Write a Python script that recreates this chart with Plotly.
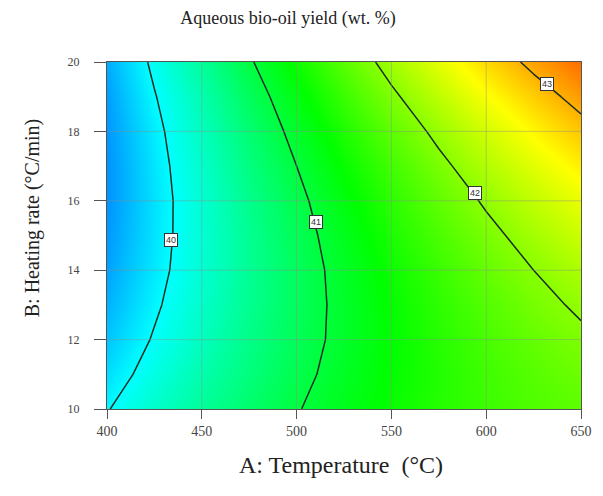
import plotly.graph_objects as go

# A: Temperature (°C) and B: Heating rate (°C/min)
temperature = [400, 425, 450, 475, 500, 525, 550, 575, 600, 625, 650]
heating_rate = [10, 11, 12, 13, 14, 15, 16, 17, 18, 19, 20]

# Aqueous bio-oil yield (wt. %), one row per heating rate
yield_b10 = [39.98, 40.27, 40.53, 40.76, 40.98, 41.17, 41.34, 41.48, 41.60, 41.70, 41.77]
yield_b11 = [39.83, 40.14, 40.42, 40.67, 40.91, 41.12, 41.31, 41.47, 41.62, 41.74, 41.85]
yield_b12 = [39.71, 40.03, 40.33, 40.61, 40.86, 41.09, 41.30, 41.49, 41.66, 41.81, 41.94]
yield_b13 = [39.61, 39.95, 40.27, 40.57, 40.84, 41.09, 41.32, 41.53, 41.72, 41.90, 42.05]
yield_b14 = [39.53, 39.89, 40.23, 40.55, 40.84, 41.11, 41.36, 41.59, 41.81, 42.00, 42.18]
yield_b15 = [39.48, 39.86, 40.22, 40.56, 40.87, 41.16, 41.43, 41.68, 41.91, 42.13, 42.33]
yield_b16 = [39.45, 39.85, 40.23, 40.59, 40.92, 41.23, 41.52, 41.79, 42.04, 42.28, 42.50]
yield_b17 = [39.45, 39.87, 40.27, 40.65, 41.00, 41.33, 41.63, 41.92, 42.20, 42.45, 42.68]
yield_b18 = [39.47, 39.91, 40.33, 40.73, 41.10, 41.45, 41.77, 42.08, 42.37, 42.64, 42.89]
yield_b19 = [39.51, 39.98, 40.41, 40.83, 41.22, 41.59, 41.94, 42.26, 42.57, 42.85, 43.11]
yield_b20 = [39.58, 40.07, 40.52, 40.96, 41.37, 41.76, 42.12, 42.47, 42.79, 43.08, 43.35]
z = [yield_b10, yield_b11, yield_b12, yield_b13, yield_b14, yield_b15,
     yield_b16, yield_b17, yield_b18, yield_b19, yield_b20]

contour_levels = [40, 41, 42, 43]
# where the level labels sit on their lines (temperature, heating rate)
label_temperature = [434, 510, 594, 632]
label_heating = [14.87, 15.39, 16.22, 19.37]

x_ticks = [400, 450, 500, 550, 600, 650]
y_ticks = [10, 12, 14, 16, 18, 20]

colorscale = [
    [0.0, "rgb(0,0,255)"],
    [0.25, "rgb(0,255,255)"],
    [0.5, "rgb(0,255,0)"],
    [0.75, "rgb(255,255,0)"],
    [1.0, "rgb(255,0,0)"],
]

fig = go.Figure()
fig.add_trace(go.Heatmap(
    x=temperature, y=heating_rate, z=z,
    colorscale=colorscale, zmin=38.7, zmax=43.9,
    zsmooth="best", showscale=False, hoverinfo="skip",
))
fig.add_trace(go.Contour(
    x=temperature, y=heating_rate, z=z,
    contours=dict(coloring="none", start=contour_levels[0], end=contour_levels[-1], size=1,
                  showlabels=False),
    line=dict(color="#1b2f25", width=1.5, smoothing=0),
    showscale=False, hoverinfo="skip",
))

shapes = []
for t in x_ticks[1:-1]:
    shapes.append(dict(type="line", xref="x", yref="y", x0=t, x1=t, y0=y_ticks[0], y1=y_ticks[-1],
                       line=dict(color="rgba(140,140,140,0.45)", width=1), layer="above"))
for t in y_ticks[1:-1]:
    shapes.append(dict(type="line", xref="x", yref="y", x0=x_ticks[0], x1=x_ticks[-1], y0=t, y1=t,
                       line=dict(color="rgba(140,140,140,0.45)", width=1), layer="above"))

annotations = []
for lv, lx, ly in zip(contour_levels, label_temperature, label_heating):
    annotations.append(dict(x=lx, y=ly, xref="x", yref="y", text=str(lv), showarrow=False,
                            font=dict(family="Liberation Sans", size=9, color="#333"),
                            bgcolor="white", bordercolor="#333", borderwidth=1, borderpad=1))
annotations.append(dict(text="A: Temperature  (°C)", xref="paper", yref="paper", x=0.494, y=-0.161,
                        showarrow=False, xanchor="center", yanchor="middle",
                        font=dict(family="Liberation Serif", size=24, color="#222")))
annotations.append(dict(text="B: Heating rate (°C/min)", xref="paper", yref="paper", x=-0.158, y=0.55,
                        showarrow=False, xanchor="center", yanchor="middle", textangle=-90,
                        font=dict(family="Liberation Serif", size=20, color="#222")))

fig.update_layout(
    width=595, height=488,
    margin=dict(l=99, r=22, t=54, b=87),
    paper_bgcolor="white", plot_bgcolor="white",
    title=dict(text="Aqueous bio-oil yield (wt. %)", x=0.4706, xanchor="center", y=0.98, yanchor="middle",
               font=dict(family="Liberation Serif", size=18, color="#222")),
    shapes=shapes,
    annotations=annotations,
    showlegend=False,
)
fig.update_xaxes(
    range=[400, 650], tickvals=x_ticks, ticks="outside", ticklen=9, tickcolor="#555",
    showline=True, linecolor="#555", linewidth=1, mirror=True, showgrid=False, zeroline=False,
    tickfont=dict(family="Liberation Serif", size=14, color="#444"), ticklabelstandoff=0,
)
fig.update_yaxes(
    range=[10, 20], tickvals=y_ticks, ticks="outside", ticklen=12, tickcolor="#555",
    showline=True, linecolor="#555", linewidth=1, mirror=True, showgrid=False, zeroline=False,
    tickfont=dict(family="Liberation Serif", size=12, color="#444"), ticklabelstandoff=12,
)

fig.write_html("out.html")
